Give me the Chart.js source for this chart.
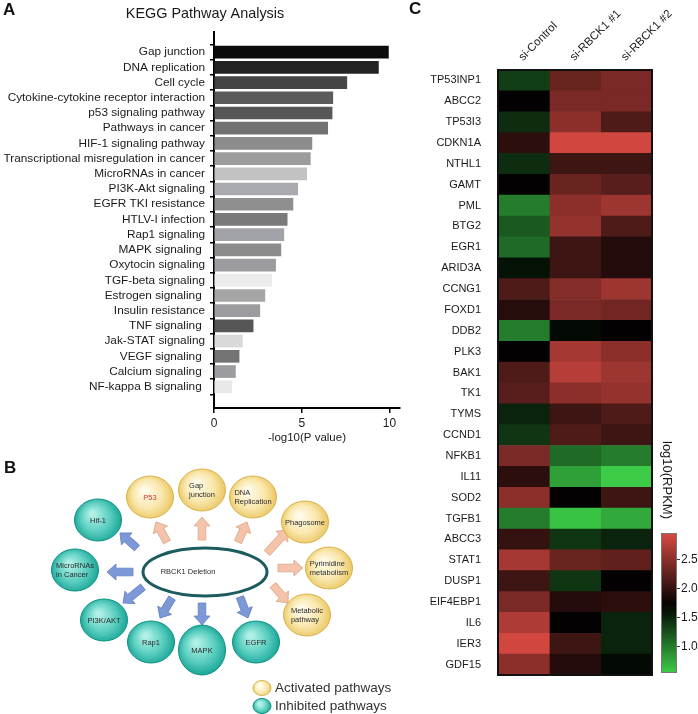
<!DOCTYPE html>
<html><head><meta charset="utf-8">
<script src="https://cdn.jsdelivr.net/npm/chart.js@4.4.0/dist/chart.umd.min.js"></script>
<style>
html,body{margin:0;padding:0;background:#fff;}
#wrap{position:relative;width:698px;height:714px;overflow:hidden;font-family:"Liberation Sans",Arial,sans-serif;}
canvas{position:absolute;}
.lbl{position:absolute;font-weight:bold;font-size:17px;line-height:17px;color:#111;}
</style></head><body>
<div id="wrap">
<canvas id="cA" style="left:0;top:0" width="410" height="445"></canvas>
<canvas id="cB" style="left:0;top:440px" width="400" height="274"></canvas>
<canvas id="cC" style="left:400px;top:0" width="298" height="714"></canvas>
<canvas id="cBar" style="left:650px;top:520px" width="48" height="170"></canvas>
<div class="lbl" style="left:3px;top:1px">A</div>
<div class="lbl" style="left:4px;top:459px">B</div>
<div class="lbl" style="left:409px;top:0px">C</div>
</div>
<script>
// ---------- Panel A data ----------
const pathways = ['Gap junction','DNA replication','Cell cycle','Cytokine-cytokine receptor interaction','p53 signaling pathway','Pathways in cancer','HIF-1 signaling pathway','Transcriptional misregulation in cancer','MicroRNAs in cancer','PI3K-Akt signaling','EGFR TKI resistance','HTLV-I infection','Rap1 signaling','MAPK signaling ','Oxytocin signaling','TGF-beta signaling','Estrogen signaling ','Insulin resistance','TNF signaling ','Jak-STAT signaling','VEGF signaling ','Calcium signaling ','NF-kappa B signaling '];
const log10P = [9.94,9.37,7.57,6.77,6.73,6.48,5.58,5.49,5.28,4.77,4.50,4.17,3.98,3.81,3.51,3.28,2.90,2.61,2.23,1.62,1.43,1.22,1.01];
const xTicksA = [0,5,10];
// style (not data)
const barShades = ['#0b0b0b','#232323','#454545','#5b5b5b','#575757','#727272','#8c8c8c','#9c9c9c','#c2c2c2','#a9a9b0','#8f8f8f','#7a7a7a','#a2a2a9','#8b8b8b','#9c9ca0','#ececec','#a5a5a5','#9c9ca0','#565656','#d9d9d9','#737373','#9c9ca0','#e9e9e9'];

// ---------- Panel B data ----------
const nodeLabels = ['P53','Gap\njunction','DNA\nReplication','Phagosome','Pyrimidine\nmetabolism','Metabolic\npathway','EGFR','MAPK','Rap1','PI3K/AKT','MicroRNAs\nin Cancer','Hif-1'];
const nodeState = ['Activated','Activated','Activated','Activated','Activated','Activated','Inhibited','Inhibited','Inhibited','Inhibited','Inhibited','Inhibited'];
const nodeX = [150,202,253,305,329,307,256,202,151,104,75,98];
const nodeY = [57,50,57,82,128,175,202,210,202,180,130,80];
const arrowFromX = [167,202,238,267,278,273,240,202,172,143,133,137];
const arrowFromY = [102,100,102,113,128,145,157,163,158,147,132,108];
const arrowToX   = [156,202,247,288,303,288,248,202,160,123,107,120];
const arrowToY   = [82,77,82,90,128,163,178,185,178,163,132,93];
const centerLabel = 'RBCK1 Deletion';
const centerX = 205, centerY = 132;
const legendItems = ['Activated pathways','Inhibited pathways'];

// ---------- Panel C data ----------
const genes = ['TP53INP1','ABCC2','TP53I3','CDKN1A','NTHL1','GAMT','PML','BTG2','EGR1','ARID3A','CCNG1','FOXD1','DDB2','PLK3','BAK1','TK1','TYMS','CCND1','NFKB1','IL11','SOD2','TGFB1','ABCC3','STAT1','DUSP1','EIF4EBP1','IL6','IER3','GDF15'];
const samples = ['si-Control','si-RBCK1 #1','si-RBCK1 #2'];
const siControl = [1.35,1.72,1.45,1.95,1.45,1.72,1.00,1.20,1.10,1.60,2.15,1.92,1.00,1.72,2.15,2.20,1.50,1.40,2.40,1.95,2.50,1.00,2.00,2.65,2.05,2.40,2.70,2.90,2.50];
const siRBCK1_1 = [2.30,2.40,2.50,2.90,2.05,2.30,2.50,2.55,2.05,2.05,2.45,2.40,1.65,2.65,2.75,2.50,2.05,2.15,1.10,0.80,1.72,0.60,1.40,2.30,1.40,1.90,1.72,2.05,1.90];
const siRBCK1_2 = [2.40,2.40,2.15,2.90,2.05,2.20,2.60,2.15,1.90,1.90,2.60,2.35,1.72,2.50,2.60,2.55,2.15,2.05,1.00,0.55,2.05,0.75,1.50,2.25,1.72,1.95,1.50,1.50,1.65];
const colorTicks = [1.0,1.5,2.0,2.5];
const colorMin = 0.55, colorMid = 1.7, colorMax = 2.95;

const FAM = '"Liberation Sans", Arial, sans-serif';

// colormap green-black-red
const cLow = [60,204,72], cMidC = [0,0,0], cHigh = [218,74,67];
function colorFor(v){
  let a,b,t;
  if (v <= colorMid){ a=cLow; b=cMidC; t=(v-colorMin)/(colorMid-colorMin); }
  else { a=cMidC; b=cHigh; t=(v-colorMid)/(colorMax-colorMid); }
  t=Math.max(0,Math.min(1,t));
  const c=a.map((x,i)=>Math.round(x+(b[i]-x)*t));
  return `rgb(${c[0]},${c[1]},${c[2]})`;
}

// ================= Panel A =================
const titlePlugin = {
  id:'titleA',
  afterDraw(chart){
    const c=chart.ctx; c.save();
    c.font='14.4px '+FAM; c.fillStyle='#1a1a1a'; c.textAlign='center'; c.textBaseline='middle';
    c.fillText('KEGG Pathway Analysis',205,14);
    c.restore();
  }
};
new Chart(document.getElementById('cA'),{
  type:'bar',
  data:{datasets:[{data:log10P.map((v,i)=>({x:v,y:i})),backgroundColor:barShades,borderWidth:0,barThickness:12}]},
  options:{
    indexAxis:'y',responsive:false,animation:false,devicePixelRatio:1,
    layout:{padding:{top:32,right:10,left:0,bottom:0}},
    plugins:{legend:{display:false},tooltip:{enabled:false},title:{display:false}},
    scales:{
      y:{type:'linear',reverse:true,min:-0.786,max:22.86,
        afterBuildTicks:s=>{s.ticks=pathways.map((_,i)=>({value:i}));},
        afterFit:s=>{s.width=214;},
        ticks:{callback:v=>pathways[v],font:{size:11.8,family:FAM},color:'#1a1a1a',padding:5,autoSkip:false},
        grid:{display:true,drawOnChartArea:false,tickLength:4,color:'#000',lineWidth:1.5},
        border:{display:true,color:'#000',width:2}
      },
      x:{type:'linear',min:0,max:10.6,
        afterBuildTicks:s=>{s.ticks=xTicksA.map(v=>({value:v}));},
        afterFit:s=>{s.height=37;},
        ticks:{font:{size:12,family:FAM},color:'#1a1a1a',padding:3},
        grid:{display:true,drawOnChartArea:false,tickLength:5,color:'#000',lineWidth:1.5},
        border:{display:true,color:'#000',width:2},
        title:{display:true,text:'-log10(P value)',font:{size:11.5,family:FAM},color:'#1a1a1a',padding:{top:1,bottom:0}}
      }
    }
  },
  plugins:[titlePlugin]
});

// ================= Panel B =================
function drawArrow(c,x1,y1,x2,y2,fill,stroke){
  const L=Math.hypot(x2-x1,y2-y1), ang=Math.atan2(y2-y1,x2-x1);
  const sw=3.8, hw=8, hl=9;
  c.save(); c.translate(x1,y1); c.rotate(ang);
  c.beginPath();
  c.moveTo(0,-sw); c.lineTo(L-hl,-sw); c.lineTo(L-hl,-hw); c.lineTo(L,0);
  c.lineTo(L-hl,hw); c.lineTo(L-hl,sw); c.lineTo(0,sw); c.closePath();
  c.fillStyle=fill; c.fill(); c.lineWidth=0.8; c.strokeStyle=stroke; c.stroke();
  c.restore();
}
function drawNode(c,x,y,rx,ry,state){
  const g=c.createRadialGradient(x-rx*0.25,y-ry*0.3,2,x,y,Math.max(rx,ry)*1.05);
  if(state==='Activated'){ g.addColorStop(0,'#fffbea'); g.addColorStop(0.55,'#f9e7ad'); g.addColorStop(1,'#e9c45a'); }
  else { g.addColorStop(0,'#b2f0e7'); g.addColorStop(0.55,'#5ccfc1'); g.addColorStop(1,'#14a293'); }
  c.beginPath(); c.ellipse(x,y,rx,ry,0,0,Math.PI*2);
  c.fillStyle=g; c.fill();
  c.lineWidth=1; c.strokeStyle= state==='Activated' ? '#d8b24c' : '#0f8f83'; c.stroke();
}
const diagramPlugin = {
  id:'diagram',
  afterDatasetsDraw(chart){
    const c=chart.ctx, sx=chart.scales.x, sy=chart.scales.y;
    const px=v=>sx.getPixelForValue(v), py=v=>sy.getPixelForValue(v);
    c.save();
    // central ellipse
    c.beginPath(); c.ellipse(px(centerX),py(centerY),62,24,0,0,Math.PI*2);
    c.lineWidth=3; c.strokeStyle='#1d5c5e'; c.stroke();
    c.font='7.5px '+FAM; c.fillStyle='#2a2a2a'; c.textAlign='center'; c.textBaseline='middle';
    c.fillText(centerLabel,px(centerX)-17,py(centerY));
    // arrows
    for(let i=0;i<nodeLabels.length;i++){
      const act=nodeState[i]==='Activated';
      drawArrow(c,px(arrowFromX[i]),py(arrowFromY[i]),px(arrowToX[i]),py(arrowToY[i]),
        act?'#f4c4aa':'#7c98d6', act?'#e0a486':'#6480c2');
    }
    // nodes
    for(let i=0;i<nodeLabels.length;i++){
      const x=px(nodeX[i]), y=py(nodeY[i]);
      const ry = nodeLabels[i]==='MAPK'?25:21;
      drawNode(c,x,y,23.5,ry,nodeState[i]);
      const lines=nodeLabels[i].split('\n');
      c.font='7.5px '+FAM; c.textBaseline='middle';
      c.fillStyle = nodeLabels[i]==='P53' ? '#d4353a' : '#2a2a2a';
      if(lines.length===1){ c.textAlign='center'; c.fillText(lines[0],x,y+1); }
      else {
        const w=Math.max(...lines.map(l=>c.measureText(l).width));
        c.textAlign='left';
        lines.forEach((l,k)=>c.fillText(l,x-w/2,y+(k-0.5)*9));
      }
    }
    // legend
    legendItems.forEach((t,k)=>{
      const lx=px(262), ly=py(248+k*18);
      drawNode(c,lx,ly,9,7.5,k===0?'Activated':'Inhibited');
      c.font='13.5px '+FAM; c.fillStyle='#333'; c.textAlign='left'; c.textBaseline='middle';
      c.fillText(t,px(275),ly+0.5);
    });
    c.restore();
  }
};
new Chart(document.getElementById('cB'),{
  type:'scatter',
  data:{datasets:[{data:nodeX.map((x,i)=>({x,y:nodeY[i]})),pointRadius:0}]},
  options:{
    responsive:false,animation:false,devicePixelRatio:1,
    layout:{padding:0},
    plugins:{legend:{display:false},tooltip:{enabled:false}},
    scales:{x:{type:'linear',min:0,max:400,display:false},y:{type:'linear',min:0,max:274,reverse:true,display:false}}
  },
  plugins:[diagramPlugin]
});

// ================= Panel C =================
const heatPlugin = {
  id:'heatDeco',
  afterDatasetsDraw(chart){
    const c=chart.ctx, a=chart.chartArea, sx=chart.scales.x;
    c.save();
    c.lineWidth=2; c.strokeStyle='#111'; c.strokeRect(a.left,a.top,a.right-a.left,a.bottom-a.top);
    c.font='11.5px '+FAM; c.fillStyle='#1a1a1a'; c.textAlign='left'; c.textBaseline='middle';
    samples.forEach((s,i)=>{
      const cx=sx.getPixelForValue(i+0.5);
      c.save(); c.translate(cx-3,a.top-11); c.rotate(-Math.PI/4); c.fillText(s,0,0); c.restore();
    });
    c.save(); c.font='13px '+FAM; c.textAlign='center'; c.translate(267,480); c.rotate(Math.PI/2);
    c.fillText('log10(RPKM)',0,0); c.restore();
    c.restore();
  }
};
const cols=[siControl,siRBCK1_1,siRBCK1_2];
new Chart(document.getElementById('cC'),{
  type:'bar',
  data:{labels:genes,datasets:cols.map((vals,ci)=>({
    label:samples[ci],
    data:genes.map(()=>[ci,ci+1]),
    backgroundColor:vals.map(colorFor),
    borderWidth:0,barPercentage:1,categoryPercentage:1,grouped:false
  }))},
  options:{
    indexAxis:'y',responsive:false,animation:false,devicePixelRatio:1,
    layout:{padding:{top:70,right:46,bottom:39,left:0}},
    plugins:{legend:{display:false},tooltip:{enabled:false}},
    scales:{
      x:{type:'linear',min:0,max:3,display:false},
      y:{type:'category',afterFit:s=>{s.width=98;},
        ticks:{font:{size:11,family:FAM},color:'#1a1a1a',padding:9,autoSkip:false},
        grid:{display:false},border:{display:false}}
    }
  },
  plugins:[heatPlugin]
});

// colour bar
const barBorder = {
  id:'barBorder',
  afterDatasetsDraw(chart){
    const c=chart.ctx,a=chart.chartArea;
    c.save(); c.lineWidth=1; c.strokeStyle='#777'; c.strokeRect(a.left+0.5,a.top+0.5,a.right-a.left-1,a.bottom-a.top-1); c.restore();
  }
};
new Chart(document.getElementById('cBar'),{
  type:'bar',
  data:{labels:['log10(RPKM)'],datasets:[{data:[[colorMin,colorMax]],barPercentage:1,categoryPercentage:1,borderWidth:0,
    backgroundColor:(ctx)=>{
      const ch=ctx.chart, a=ch.chartArea; if(!a) return '#000';
      const ys=ch.scales.y;
      const g=ch.ctx.createLinearGradient(0,ys.getPixelForValue(colorMin),0,ys.getPixelForValue(colorMax));
      for(let k=0;k<=12;k++){const v=colorMin+(colorMax-colorMin)*k/12; g.addColorStop(k/12,colorFor(v));}
      return g;
    }}]},
  options:{
    responsive:false,animation:false,devicePixelRatio:1,
    layout:{padding:{left:11,top:13,bottom:17,right:0}},
    plugins:{legend:{display:false},tooltip:{enabled:false}},
    scales:{
      x:{display:false},
      y:{position:'right',min:colorMin,max:colorMax,
        afterBuildTicks:s=>{s.ticks=colorTicks.map(v=>({value:v}));},
        afterFit:s=>{s.width=21;},
        ticks:{callback:v=>Number(v).toFixed(1),font:{size:12,family:FAM},color:'#1a1a1a',padding:1},
        grid:{drawOnChartArea:false,tickLength:3,color:'#333'},border:{display:false}}
    }
  },
  plugins:[barBorder]
});
</script>
</body></html>
